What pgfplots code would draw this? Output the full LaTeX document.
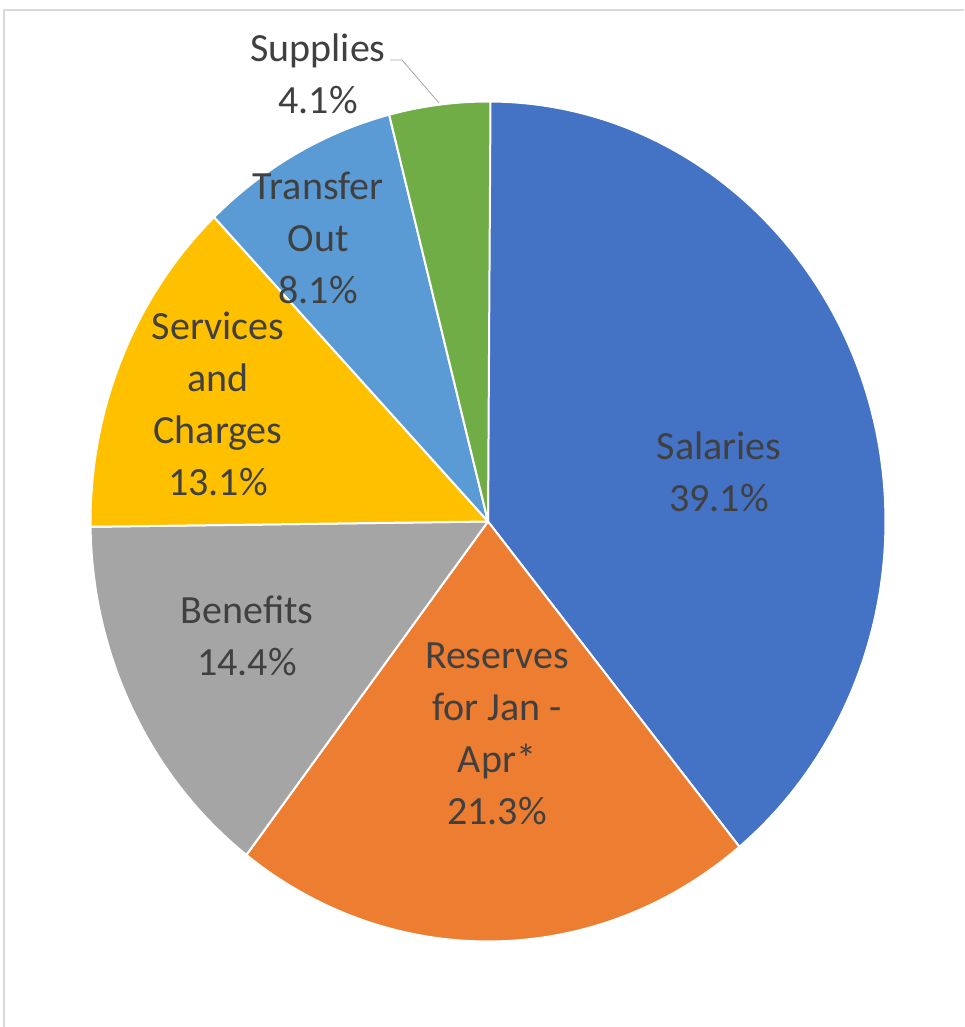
\documentclass[border=0pt]{standalone}
\usepackage{pgfplots}
\pgfplotsset{compat=1.18}
\usepackage{fontspec}
\setmainfont{Carlito}

\definecolor{cSal}{HTML}{4472C4}
\definecolor{cRes}{HTML}{ED7D31}
\definecolor{cBen}{HTML}{A5A5A5}
\definecolor{cSer}{HTML}{FFC000}
\definecolor{cTra}{HTML}{5B9BD5}
\definecolor{cSup}{HTML}{70AD47}
\definecolor{txt}{HTML}{404040}
\definecolor{frame}{HTML}{D9D9D9}

% shares in percent, clockwise from 12 o'clock
\def\pSal{39.1}
\def\pRes{21.3}
\def\pBen{14.4}
\def\pSer{13.1}
\def\pTra{8.1}
\def\pSup{4.1}

\begin{document}
\begin{tikzpicture}[
    lbl/.style={text=txt, align=center, font={\fontsize{30}{39}\selectfont}},
    slice/.style={draw=white, line width=1.5pt, line join=round},
]
\pgfmathsetmacro\aA{90}
\pgfmathsetmacro\aB{\aA-3.6*\pSal}
\pgfmathsetmacro\aC{\aB-3.6*\pRes}
\pgfmathsetmacro\aD{\aC-3.6*\pBen}
\pgfmathsetmacro\aE{\aD-3.6*\pSer}
\pgfmathsetmacro\aF{\aE-3.6*\pTra}
\pgfmathsetmacro\aG{\aF-3.6*\pSup}
\def\rx{298.1pt}
\def\ry{315pt}
\begin{axis}[
    scale only axis,
    width=723pt, height=770.25pt,
    xmin=0, xmax=964, ymin=0, ymax=1027,
    y dir=reverse,
    hide axis,
    clip=false,
]
\draw[frame, line width=1pt] (axis cs:4,1027) -- (axis cs:4,10) -- (axis cs:964,10);

\fill[cSal, slice] (axis cs:488,521.5) -- +(canvas polar cs:angle=\aA, x radius=\rx, y radius=\ry)
    arc[start angle=\aA, end angle=\aB, x radius=\rx, y radius=\ry] -- cycle;
\fill[cRes, slice] (axis cs:488,521.5) -- +(canvas polar cs:angle=\aB, x radius=\rx, y radius=\ry)
    arc[start angle=\aB, end angle=\aC, x radius=\rx, y radius=\ry] -- cycle;
\fill[cBen, slice] (axis cs:488,521.5) -- +(canvas polar cs:angle=\aC, x radius=\rx, y radius=\ry)
    arc[start angle=\aC, end angle=\aD, x radius=\rx, y radius=\ry] -- cycle;
\fill[cSer, slice] (axis cs:488,521.5) -- +(canvas polar cs:angle=\aD, x radius=\rx, y radius=\ry)
    arc[start angle=\aD, end angle=\aE, x radius=\rx, y radius=\ry] -- cycle;
\fill[cTra, slice] (axis cs:488,521.5) -- +(canvas polar cs:angle=\aE, x radius=\rx, y radius=\ry)
    arc[start angle=\aE, end angle=\aF, x radius=\rx, y radius=\ry] -- cycle;
\fill[cSup, slice] (axis cs:488,521.5) -- +(canvas polar cs:angle=\aF, x radius=\rx, y radius=\ry)
    arc[start angle=\aF, end angle=\aG, x radius=\rx, y radius=\ry] -- cycle;

\draw[gray!70, line width=0.6pt] (axis cs:390,60) -- (axis cs:402,60) -- (axis cs:439,103);

\node[lbl] at (axis cs:719,472) {Salaries\\39.1\%};
\node[lbl] at (axis cs:497,734) {Reserves\\for Jan -\\Apr*\\21.3\%};
\node[lbl] at (axis cs:247,636) {Benefits\\14.4\%};
\node[lbl] at (axis cs:218,404) {Services\\and\\Charges\\13.1\%};
\node[lbl] at (axis cs:318,238) {Transfer\\Out\\8.1\%};
\node[lbl] at (axis cs:318,74) {Supplies\\4.1\%};
\end{axis}
\pgfresetboundingbox
\path[use as bounding box] (current axis.south west) rectangle (current axis.north east);
\end{tikzpicture}
\end{document}
